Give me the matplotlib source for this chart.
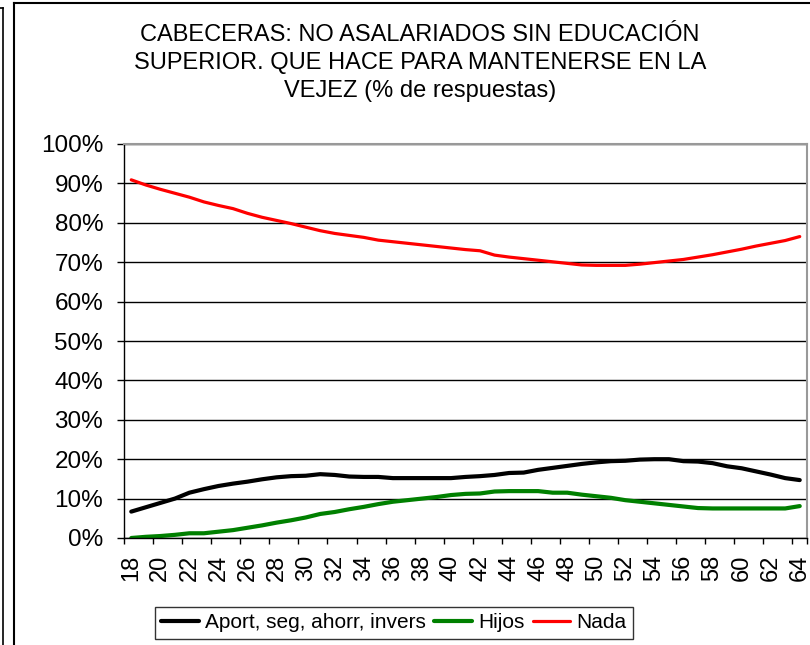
import matplotlib
matplotlib.use('Agg')
import matplotlib.pyplot as plt
from matplotlib.lines import Line2D

plt.rcParams['font.family'] = ['Liberation Sans', 'DejaVu Sans']

ages = list(range(18, 65))

aport = [6.7, 7.8, 8.9, 10.0, 11.5, 12.4, 13.2, 13.8, 14.3, 14.9,
         15.4, 15.7, 15.8, 16.2, 16.0, 15.6, 15.5, 15.5, 15.2, 15.2,
         15.2, 15.2, 15.2, 15.5, 15.7, 16.0, 16.5, 16.6, 17.3, 17.8,
         18.3, 18.8, 19.2, 19.5, 19.6, 19.9, 20.0, 20.0, 19.5, 19.4,
         19.0, 18.2, 17.7, 16.9, 16.1, 15.2, 14.7]

hijos = [0.0, 0.3, 0.5, 0.8, 1.2, 1.2, 1.6, 2.0, 2.6, 3.2,
         3.9, 4.5, 5.2, 6.1, 6.6, 7.3, 7.9, 8.6, 9.2, 9.6,
         10.0, 10.4, 10.9, 11.2, 11.3, 11.8, 11.9, 11.9, 11.9, 11.5,
         11.5, 11.0, 10.6, 10.2, 9.6, 9.2, 8.8, 8.4, 8.0, 7.6,
         7.5, 7.5, 7.5, 7.5, 7.5, 7.5, 8.1]

nada = [90.9, 89.6, 88.5, 87.5, 86.5, 85.3, 84.4, 83.6, 82.4, 81.4,
        80.6, 79.8, 78.9, 78.0, 77.3, 76.8, 76.3, 75.6, 75.2, 74.8,
        74.4, 74.0, 73.6, 73.2, 72.9, 71.8, 71.3, 70.9, 70.5, 70.1,
        69.7, 69.3, 69.2, 69.2, 69.2, 69.5, 69.9, 70.3, 70.7, 71.3,
        71.9, 72.6, 73.3, 74.1, 74.8, 75.5, 76.5]

series = [('Aport, seg, ahorr, invers', aport, 'black', 3.0),
          ('Hijos', hijos, '#008000', 3.0),
          ('Nada', nada, '#ff0000', 2.3)]

title = ('CABECERAS: NO ASALARIADOS SIN EDUCACIÓN\n'
         'SUPERIOR. QUE HACE PARA MANTENERSE EN LA\n'
         'VEJEZ (% de respuestas)')

fig = plt.figure(figsize=(8.1, 6.45), dpi=100)

# outer chart border (cut off at right and bottom)
fig.add_artist(Line2D([14/810, 14/810], [0, 1 - 3/645], color='black', lw=1.5))
fig.add_artist(Line2D([14/810, 1], [1 - 3/645, 1 - 3/645], color='black', lw=1.5))
fig.add_artist(Line2D([2.5/810, 2.5/810], [0, 1 - 8/645], color='black', lw=1.2))
fig.add_artist(Line2D([0, 2.5/810], [1 - 8/645, 1 - 8/645], color='black', lw=1.2))

ax = fig.add_axes([124/810, 1 - 538/645, 683/810, 394/645])

x = list(range(len(ages)))
for name, vals, col, lw in series:
    ax.plot(x, vals, color=col, lw=lw, label=name, solid_capstyle='round')

ax.set_xlim(-0.5, len(ages) - 0.5)
ax.set_ylim(0, 100)
ax.set_yticks(range(0, 101, 10))
ax.set_yticklabels([f'{v}%' for v in range(0, 101, 10)], fontsize=17.5)
ax.tick_params(axis='y', length=5, width=1, pad=10)
ax.yaxis.grid(True, color='black', lw=1)
ax.set_axisbelow(True)

ax.set_xticks(x[::2])
ax.set_xticklabels([str(a) for a in ages[::2]], rotation=90, fontsize=17)
ax.set_xticks([i - 0.5 for i in x[::2]] + [len(ages) - 0.5], minor=True)
ax.tick_params(axis='x', which='major', length=0, pad=12)
ax.tick_params(axis='x', which='minor', length=4.5, width=1)

for s in ['left', 'bottom']:
    ax.spines[s].set_color('black')
    ax.spines[s].set_linewidth(1)
ax.spines['top'].set_color('#999999')
ax.spines['right'].set_color('#999999')
ax.spines['top'].set_linewidth(1.5)
ax.spines['right'].set_linewidth(1.5)

fig.text(420/810, 1 - 24/645, title, ha='center', va='top', fontsize=17,
         linespacing=1.35)

leg = fig.legend(loc='center', bbox_to_anchor=(394/810, 1 - 623/645), ncol=3,
                 fontsize=15, frameon=True, fancybox=False, edgecolor='black',
                 handlelength=1.8, handletextpad=0.3, columnspacing=0.4,
                 borderpad=0.3, borderaxespad=0)
leg.get_frame().set_linewidth(1)

fig.savefig('out.png', dpi=100, facecolor='white')
